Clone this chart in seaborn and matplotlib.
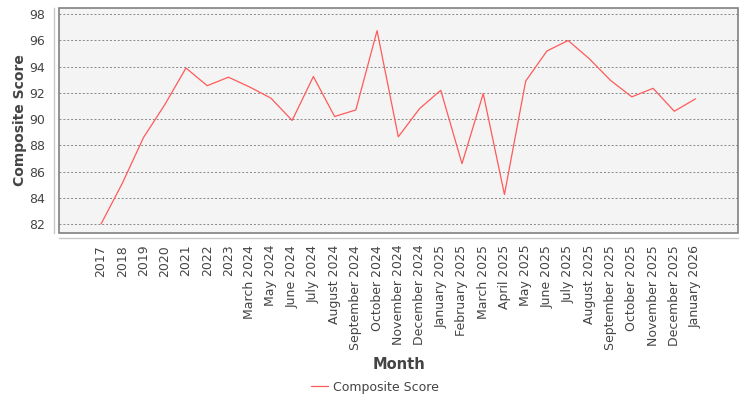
import seaborn as sb
import pandas as pd
import matplotlib
matplotlib.use("Agg")
import matplotlib.pyplot as plt
from matplotlib.patches import Rectangle

#Data
months = ["2017", "2018", "2019", "2020", "2021", "2022", "2023",
          "March 2024", "May 2024", "June 2024", "July 2024", "August 2024",
          "September 2024", "October 2024", "November 2024", "December 2024",
          "January 2025", "February 2025", "March 2025", "April 2025",
          "May 2025", "June 2025", "July 2025", "August 2025",
          "September 2025", "October 2025", "November 2025", "December 2025",
          "January 2026"]
scores = [82.0, 85.1, 88.6, 91.1, 93.9, 92.55, 93.2,
          92.45, 91.6, 89.9, 93.25, 90.2,
          90.7, 96.75, 88.65, 90.8,
          92.2, 86.6, 91.95, 84.25,
          92.9, 95.2, 96.0, 94.6,
          92.95, 91.7, 92.35, 90.6,
          91.55]
yticks = [82, 84, 86, 88, 90, 92, 94, 96, 98]

df = pd.DataFrame({"Month": months, "Composite Score": scores})

sb.set_style("white")
plt.rcParams['font.family'] = ['DejaVu Sans']

fig = plt.figure(figsize=(7.5, 4), dpi=100)
ax = fig.add_axes([0.0787, 0.4175, 0.9053, 0.5625])
ax.set_facecolor("#f4f4f4")

sb.lineplot(data=df, x="Month", y="Composite Score", sort=False,
            color="#ff5a5a", linewidth=0.9, ax=ax, label="Composite Score")

ax.set_xlim(-1.98, len(months) + 1.0)
ax.set_ylim(81.31, 98.48)
ax.set_yticks(yticks)
ax.set_yticklabels([str(v) for v in yticks])
ax.tick_params(axis="x", labelrotation=90)

#dashed horizontal grid
ax.yaxis.grid(True, linestyle=(0, (2, 2)), color="#888888", linewidth=0.7)
ax.xaxis.grid(False)
ax.set_axisbelow(True)

#axis lines offset from the frame
for s in ["top", "right"]:
    ax.spines[s].set_visible(False)
for s in ["left", "bottom"]:
    ax.spines[s].set_position(("outward", 3.5))
    ax.spines[s].set_color("#c8c8c8")
    ax.spines[s].set_linewidth(1.0)
ax.add_patch(Rectangle((0, 0), 1, 1, transform=ax.transAxes, fill=False,
                       edgecolor="#808080", linewidth=1.2, clip_on=False, zorder=5))

ax.tick_params(axis="both", colors="#c8c8c8", length=3, width=0.8,
               labelcolor="#444444", labelsize=9)
ax.tick_params(axis="x", pad=2)

ax.set_xlabel("Month", fontsize=10.5, fontweight="bold", color="#444444")
ax.set_ylabel("Composite Score", fontsize=10, fontweight="bold", color="#444444")
ax.xaxis.set_label_coords(0.5, -0.551)
ax.yaxis.set_label_coords(-0.047, 0.5)

ax.get_legend().remove()
handles, labels = ax.get_legend_handles_labels()
fig.legend(handles, labels, loc="center", bbox_to_anchor=(0.5, 0.032),
           frameon=False, fontsize=9, handlelength=1.3, handletextpad=0.4,
           labelcolor="#444444")

plt.savefig("out.png", dpi=100)
